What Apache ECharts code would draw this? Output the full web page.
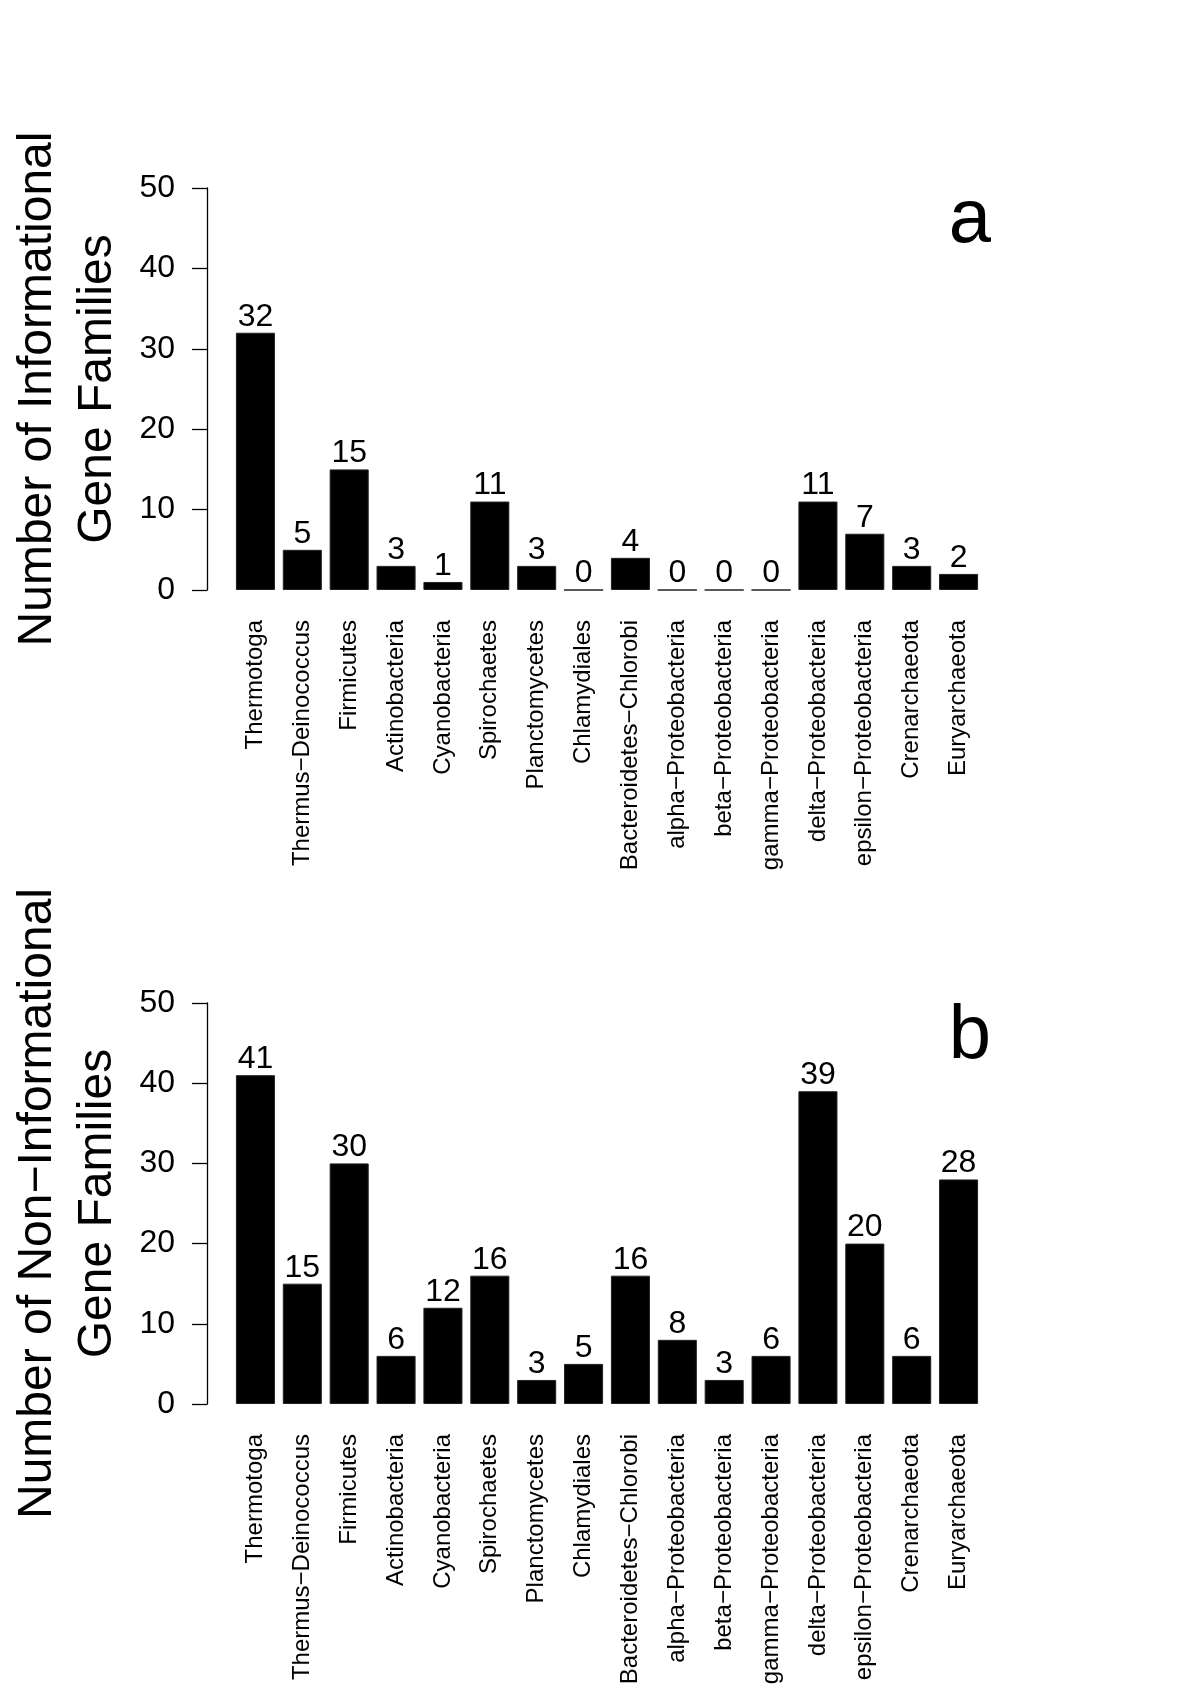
<!DOCTYPE html>
<html>
<head>
<meta charset="utf-8">
<script src="https://cdn.jsdelivr.net/npm/echarts@6/dist/echarts.min.js"></script>
<style>
html,body{margin:0;padding:0;background:#fff;}
#chart{width:1200px;height:1698px;}
</style>
</head>
<body>
<div id="chart"></div>
<script>
const categories = ["Thermotoga","Thermus\u2212Deinococcus","Firmicutes","Actinobacteria","Cyanobacteria","Spirochaetes","Planctomycetes","Chlamydiales","Bacteroidetes\u2212Chlorobi","alpha\u2212Proteobacteria","beta\u2212Proteobacteria","gamma\u2212Proteobacteria","delta\u2212Proteobacteria","epsilon\u2212Proteobacteria","Crenarchaeota","Euryarchaeota"];
const informational = [32,5,15,3,1,11,3,0,4,0,0,0,11,7,3,2];
const nonInformational = [41,15,30,6,12,16,3,5,16,8,3,6,39,20,6,28];
const yTitleA = "Number of Informational\nGene Families";
const yTitleB = "Number of Non\u2212Informational\nGene Families";
const panelLetters = ["a","b"];

const FONT = "Liberation Sans, Arial, Helvetica, sans-serif";
const chart = echarts.init(document.getElementById('chart'), null, {renderer:'canvas'});

function xAxisCfg(gi){
  return {
    type:'category', gridIndex:gi, data:categories,
    axisLine:{show:false}, axisTick:{show:false},
    axisLabel:{rotate:90, interval:0, fontSize:24, color:'#000', margin:30, fontFamily:FONT}
  };
}
function yAxisCfg(gi, title){
  return {
    type:'value', gridIndex:gi, min:0, max:50, interval:10, offset:25,
    axisLine:{show:true, lineStyle:{color:'#000', width:1.3}},
    axisTick:{show:true, length:15, lineStyle:{color:'#000', width:1.3}},
    axisLabel:{fontSize:32, color:'#000', margin:32, fontFamily:FONT},
    splitLine:{show:false},
    name:title, nameLocation:'middle', nameRotate:90, nameGap:79,
    nameTextStyle:{fontSize:48, lineHeight:60, color:'#000', fontFamily:FONT}
  };
}
function barSeries(idx, data){
  return {
    type:'bar', xAxisIndex:idx, yAxisIndex:idx, data:data,
    barCategoryGap:'16.7%',
    itemStyle:{color:'#000', borderColor:'#222', borderWidth:1},
    label:{show:true, position:'top', distance:0, fontSize:32, color:'#000', fontFamily:FONT},
    silent:true, animation:false
  };
}

chart.setOption({
  animation:false,
  backgroundColor:'#fff',
  grid:[
    {left:232, width:750, top:188, height:402},
    {left:232, width:750, top:1003, height:401}
  ],
  xAxis:[xAxisCfg(0), xAxisCfg(1)],
  yAxis:[yAxisCfg(0, yTitleA), yAxisCfg(1, yTitleB)],
  series:[barSeries(0, informational), barSeries(1, nonInformational)],
  graphic:[
    {type:'text', x:970, y:221, style:{text:panelLetters[0], font:'76px '+FONT, fill:'#000', textAlign:'center', textVerticalAlign:'middle'}},
    {type:'text', x:970, y:1037, style:{text:panelLetters[1], font:'76px '+FONT, fill:'#000', textAlign:'center', textVerticalAlign:'middle'}}
  ]
});
</script>
</body>
</html>
